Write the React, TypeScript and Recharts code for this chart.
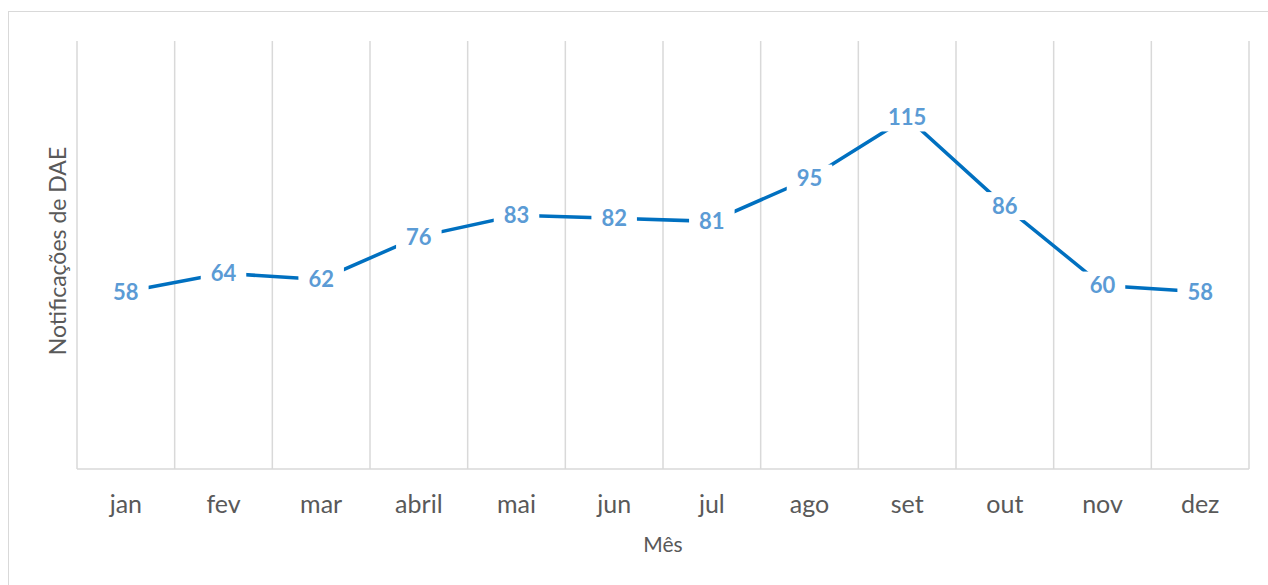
import React from 'react';
import { LineChart, Line, XAxis, YAxis, CartesianGrid, LabelList } from 'recharts';

const months = ['jan', 'fev', 'mar', 'abril', 'mai', 'jun', 'jul', 'ago', 'set', 'out', 'nov', 'dez'];
const notifications = [58, 64, 62, 76, 83, 82, 81, 95, 115, 86, 60, 58];
const yDomain: [number, number] = [0, 140];

const data = months.map((month, i) => ({ idx: i, month, value: notifications[i] }));
// category borders, half a step each side of a month
const xDomain: [number, number] = [-0.5, months.length - 0.5];
const borders = Array.from({ length: months.length + 1 }, (_, i) => i - 0.5);

const GRID = '#d9d9d9';
const TEXT = '#595959';

const gridX = ({ xAxis, offset }: any) => {
  if (xAxis && typeof xAxis.scale === 'function') return borders.map((b) => xAxis.scale(b));
  const span = xDomain[1] - xDomain[0];
  return borders.map((b) => offset.left + ((b - xDomain[0]) / span) * offset.width);
};

const DataLabel = (props: any) => {
  const { x, y, value } = props;
  const fs = 22;
  const w = String(value).length * fs * 0.58 + 20;
  const h = 28;
  return (
    <g>
      <rect x={x - w / 2} y={y - h / 2} width={w} height={h} fill="#fff" />
      <text x={x} y={y} dy="0.36em" textAnchor="middle" fontSize={fs} fontWeight={700} fill="#5b9bd5">
        {value}
      </text>
    </g>
  );
};

const YTitle = (props: any) => {
  const { viewBox } = props;
  const cx = viewBox.x + viewBox.width / 2 + 7;
  const cy = viewBox.y + viewBox.height / 2 - 4;
  return (
    <text x={cx} y={cy} transform={`rotate(-90, ${cx}, ${cy})`} textAnchor="middle" fontSize={23} fill={TEXT}>
      Notificações de DAE
    </text>
  );
};

const XTitle = (props: any) => {
  const { viewBox } = props;
  return (
    <text x={viewBox.x + viewBox.width / 2} y={viewBox.y + 83} textAnchor="middle" fontSize={21} fill={TEXT}>
      Mês
    </text>
  );
};

export default function App() {
  return (
    <div style={{ position: 'absolute', left: 0, top: 0, width: 1268, height: 585, overflow: 'hidden', background: '#fff', fontFamily: 'Lato, sans-serif' }}>
      <div style={{ position: 'absolute', left: 8, top: 11, width: 1400, height: 700, border: `1.5px solid ${GRID}` }} />
      <div style={{ position: 'absolute', left: 0, top: 0 }}>
        <LineChart width={1268} height={585} data={data} margin={{ top: 41, right: 19, bottom: 36, left: 40 }}>
          <CartesianGrid
            horizontal={false}
            stroke={GRID}
            strokeWidth={1.5}
            strokeDasharray=""
            verticalCoordinatesGenerator={gridX}
          />
          <XAxis
            type="number"
            dataKey="idx"
            domain={xDomain}
            ticks={months.map((_, i) => i)}
            interval={0}
            tickFormatter={(i: number) => months[i]}
            tickLine={false}
            axisLine={{ stroke: GRID, strokeWidth: 1.5 }}
            tick={{ fill: TEXT, fontSize: 25 }}
            tickMargin={20}
            height={80}
            label={<XTitle />}
          />
          <YAxis domain={yDomain} width={37} tick={false} tickLine={false} axisLine={false} label={<YTitle />} />
          <Line
            type="linear"
            dataKey="value"
            stroke="#0070c0"
            strokeWidth={3.5}
            dot={false}
            activeDot={false}
            isAnimationActive={false}
          >
            <LabelList dataKey="value" content={<DataLabel />} />
          </Line>
        </LineChart>
      </div>
    </div>
  );
}
